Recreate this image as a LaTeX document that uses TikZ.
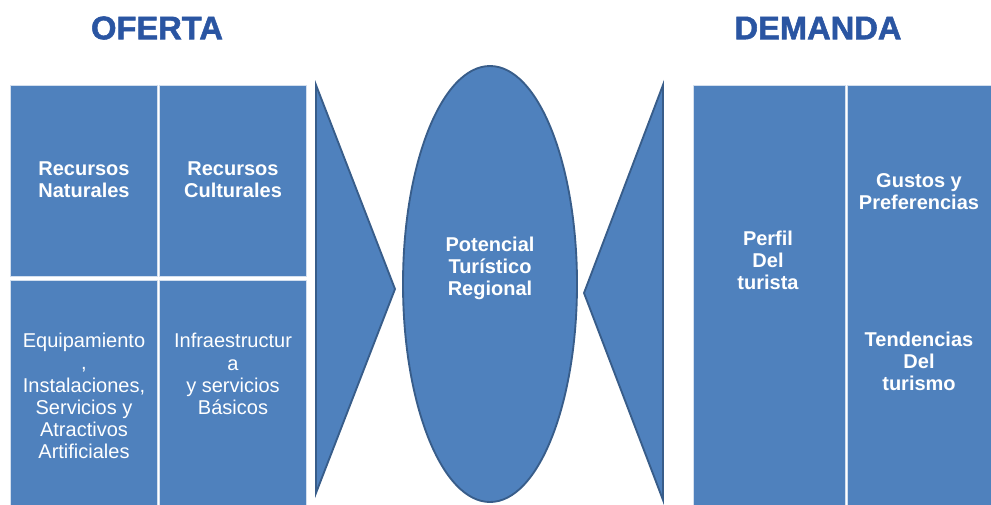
\documentclass[tikz,border=0pt]{standalone}
\usepackage{fontspec}
\setmainfont{Liberation Sans}
\newfontfamily\titlefont[FakeBold=1.6]{Liberation Sans Bold}
\usetikzlibrary{shapes.geometric}
\definecolor{boxblue}{HTML}{4F81BD}
\definecolor{edgeblue}{HTML}{385D8A}
\definecolor{titleblue}{HTML}{2A55A2}
\tikzset{
  cell/.style={fill=boxblue, draw=white!75!boxblue, line width=0.6pt},
  shapeblue/.style={fill=boxblue, draw=edgeblue, line width=1.4pt},
  lbl/.style={text=white, align=center, font=\fontsize{15}{16.6}\selectfont\bfseries, inner sep=0pt},
  lblr/.style={text=white, align=center, font=\fontsize{15}{16.6}\selectfont, inner sep=0pt},
  ttl/.style={text=titleblue, font=\fontsize{24.5}{28}\titlefont, inner sep=0pt}
}
\begin{document}
\begin{tikzpicture}[x=0.75pt,y=-0.75pt]
\useasboundingbox (0,0) rectangle (991,504);
\clip (0,0) rectangle (991,504);
% left grid
\draw[cell] (10,85) rectangle (157.5,276);
\draw[cell] (159.5,85) rectangle (306.5,276);
\draw[cell] (10,280) rectangle (157.5,510);
\draw[cell] (159.5,280) rectangle (306.5,510);
% right grid
\draw[cell] (693,85) rectangle (845,510);
\draw[cell] (847,85) rectangle (1000,510);
% triangles
\draw[shapeblue, line join=miter] (316,85) -- (395,289) -- (316,493) -- cycle;
\draw[shapeblue, line join=miter] (663,85) -- (584,293) -- (663,500) -- cycle;
% ellipse
\draw[shapeblue] (490,284) ellipse [x radius=87, y radius=218];
% titles
\node[ttl] (oferta) at (157,28) {OFERTA};
\node[ttl] (demanda) at (818,28) {DEMANDA};
% labels
\node[lbl] (rn) at (84,180) {Recursos\\Naturales};
\node[lbl] (rc) at (233,180) {Recursos\\Culturales};
\node[lblr] (eq) at (84,396) {Equipamiento\\,\\Instalaciones,\\Servicios y\\Atractivos\\Artificiales};
\node[lblr] (inf) at (233,374) {Infraestructur\\a\\y servicios\\Básicos};
\node[lbl] (pot) at (490,268) {Potencial\\Turístico\\Regional};
\node[lbl] (perf) at (768,260) {Perfil\\Del\\turista};
\node[lbl] (gus) at (919,192) {Gustos y\\Preferencias};
\node[lbl] (ten) at (919,361) {Tendencias\\Del\\turismo};
\end{tikzpicture}
\end{document}
